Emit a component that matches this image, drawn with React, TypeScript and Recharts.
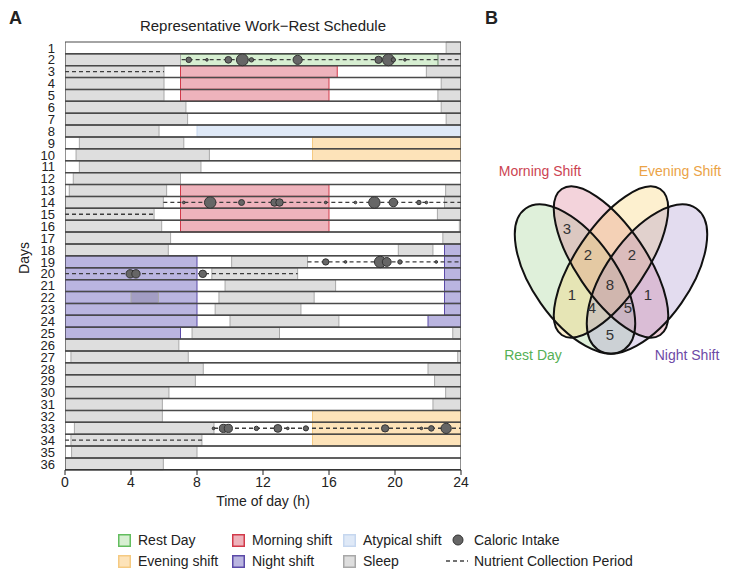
import React from 'react';
import { Bar, Cell, ComposedChart, Scatter, ScatterChart, XAxis, YAxis, ZAxis } from 'recharts';

const days = [
  1, 2, 3, 4, 5, 6, 7, 8, 9, 10, 11, 12, 13, 14, 15, 16, 17, 18,
  19, 20, 21, 22, 23, 24, 25, 26, 27, 28, 29, 30, 31, 32, 33, 34, 35, 36,
];
const timeTicks = [0, 4, 8, 12, 16, 20, 24];

// sleep bouts: [day, start h, end h]
const sleepPeriods: [number, number, number][] = [
  [1, 23.1, 24],
  [2, 0, 7.0], [2, 22.6, 24],
  [3, 0, 6.0], [3, 21.9, 24],
  [4, 0, 6.0], [4, 22.8, 24],
  [5, 0, 6.0], [5, 22.6, 24],
  [6, 0, 7.33], [6, 22.8, 24],
  [7, 0, 7.43], [7, 23.1, 24],
  [8, 0, 5.7],
  [9, 0.87, 7.2],
  [10, 0.67, 8.75],
  [11, 0.87, 8.24],
  [12, 0.5, 7.0],
  [13, 0.26, 6.16], [13, 23.07, 24],
  [14, 0, 5.96], [14, 23.0, 24],
  [15, 0, 5.4], [15, 22.57, 24],
  [16, 0, 5.86], [16, 23.9, 24],
  [17, 0, 6.4], [17, 22.9, 24],
  [18, 0, 6.26], [18, 20.2, 22.3],
  [19, 10.1, 14.7],
  [20, 8.9, 14.1],
  [21, 9.7, 16.4],
  [22, 4.0, 5.66], [22, 9.33, 15.1],
  [23, 9.1, 14.3],
  [24, 10.0, 16.6],
  [25, 7.7, 13.0], [25, 23.5, 24],
  [26, 0, 6.9],
  [27, 0.36, 7.47], [27, 23.8, 24],
  [28, 0, 8.38], [28, 22.0, 24],
  [29, 0, 7.9], [29, 22.4, 24],
  [30, 0, 6.3], [30, 23.07, 24],
  [31, 0, 5.9], [31, 22.3, 24],
  [32, 0, 5.9],
  [33, 0.57, 9.03],
  [34, 0.36, 8.3],
  [35, 0.4, 8.0],
  [36, 0, 5.96],
];

// work / rest blocks: [day, kind, start h, end h]
const shiftPeriods: [number, string, number, number][] = [
  [2, 'rest', 7.0, 22.6],
  [3, 'morning', 7.0, 16.5],
  [4, 'morning', 7.0, 16.0],
  [5, 'morning', 7.0, 16.0],
  [8, 'atypical', 8.0, 24],
  [9, 'evening', 15.0, 24],
  [10, 'evening', 15.0, 24],
  [13, 'morning', 7.0, 16.0],
  [14, 'morning', 7.0, 16.0],
  [15, 'morning', 7.0, 16.0],
  [16, 'morning', 7.0, 16.0],
  [18, 'night', 23.0, 24],
  [19, 'night', 0, 8.0], [19, 'night', 23.0, 24],
  [20, 'night', 0, 8.0], [20, 'night', 23.0, 24],
  [21, 'night', 0, 8.0], [21, 'night', 23.0, 24],
  [22, 'night', 0, 8.0], [22, 'night', 23.0, 24],
  [23, 'night', 0, 8.0], [23, 'night', 23.0, 24],
  [24, 'night', 0, 8.0], [24, 'night', 22.0, 24],
  [25, 'night', 0, 7.0],
  [32, 'evening', 15.0, 24],
  [33, 'evening', 15.0, 24],
  [34, 'evening', 15.0, 24],
];

// nutrient collection period: [day, start h, end h]
const collectionPeriods: [number, number, number][] = [
  [2, 7.07, 24], [3, 0, 6.0],
  [14, 5.96, 24], [15, 0, 5.4],
  [19, 14.7, 24], [20, 0, 14.1],
  [33, 9.03, 24], [34, 0, 8.3],
];

// caloric intake events: [day, time h, kcal]
const intakes: [number, number, number][] = [
  [2, 7.5, 175], [2, 8.6, 40], [2, 9.9, 260], [2, 10.75, 800], [2, 11.3, 110], [2, 12.5, 40],
  [2, 14.1, 480], [2, 19.0, 300], [2, 19.6, 800], [2, 19.9, 110], [2, 20.6, 40],
  [14, 7.2, 40], [14, 8.8, 750], [14, 10.7, 200], [14, 12.7, 320], [14, 13.0, 320], [14, 15.8, 40],
  [14, 17.6, 40], [14, 18.75, 750], [14, 19.9, 420], [14, 21.45, 110], [14, 21.9, 40],
  [19, 15.8, 230], [19, 17.0, 40], [19, 19.1, 750], [19, 19.5, 450], [19, 20.3, 110], [19, 22.5, 40],
  [20, 3.95, 400], [20, 4.3, 400], [20, 8.35, 320],
  [33, 9.0, 40], [33, 9.6, 380], [33, 9.9, 380], [33, 11.6, 110], [33, 12.9, 350], [33, 13.5, 40],
  [33, 14.6, 150], [33, 19.4, 300], [33, 21.6, 40], [33, 22.2, 175], [33, 23.1, 600],
];

// Venn counts (panel B)
const vennSets = ['Rest Day', 'Morning Shift', 'Evening Shift', 'Night Shift'];
const vennRegions = ['R+M', 'R+M+E', 'M+E+N', 'R+M+E+N', 'R+E', 'R+E+N', 'R+M+N', 'M+N', 'R+N'];
const vennCounts = [3, 2, 2, 8, 1, 4, 5, 1, 5];

// ---- styles / layout ----
const FONT = "'Liberation Sans', Arial, Helvetica, sans-serif";

const shiftStyle: Record<string, { fill: string; stroke: string }> = {
  rest: { fill: '#d7efd2', stroke: '#63bd5f' },
  morning: { fill: '#eeb3bc', stroke: '#d23a4a' },
  atypical: { fill: '#dfe9f7', stroke: '#c6d7ef' },
  evening: { fill: '#fde3b9', stroke: '#f5ca82' },
  night: { fill: '#bab5e0', stroke: '#5b4aa8' },
};

// ellipse geometry in the 249x270 panel
const vennStyle = [
  { fill: '#94cd84', text: '#55b055', x: 95, y: 159, rx: 86, ry: 42, tilt: 55, lx: 53, ly: 235 },
  { fill: '#d76c87', text: '#cc4452', x: 131, y: 142, rx: 88, ry: 35, tilt: 56, lx: 60, ly: 51 },
  { fill: '#f8cd5f', text: '#eba346', x: 131, y: 142, rx: 88, ry: 35, tilt: -56, lx: 200, ly: 51 },
  { fill: '#a28aca', text: '#6e4aa6', x: 167, y: 159, rx: 86, ry: 42, tilt: -55, lx: 207, ly: 235 },
];
const vennRegionPos = [
  [87, 108], [108, 134], [152, 134], [130, 164], [92, 174], [112, 187], [148, 187], [168, 174], [130, 214],
];

const rows = days.map((day) => {
  const sl = sleepPeriods.filter((s) => s[0] === day);
  const sh = shiftPeriods.filter((s) => s[0] === day);
  const col = collectionPeriods.find((c) => c[0] === day);
  return {
    day,
    sleepA: sl[0] ? [sl[0][1], sl[0][2]] : null,
    sleepB: sl[1] ? [sl[1][1], sl[1][2]] : null,
    shiftA: sh[0] ? [sh[0][2], sh[0][3]] : null,
    shiftAKind: sh[0] ? sh[0][1] : 'rest',
    shiftB: sh[1] ? [sh[1][2], sh[1][3]] : null,
    shiftBKind: sh[1] ? sh[1][1] : 'rest',
    collection: col ? [col[1], col[2]] : null,
    frame: [0, 24],
  };
});

const intakePoints = intakes.map(([day, hour, kcal]) => ({ day, hour, kcal }));

const DashedSpan = (props: any) => {
  const { x, y, width, height } = props;
  if (!(width > 0)) return <g />;
  const cy = y + height / 2;
  return (
    <line x1={x} x2={x + width} y1={cy} y2={cy} stroke="#3c3c3c" strokeWidth={1.3} strokeDasharray="4 3" />
  );
};

function Schedule() {
  const BAR = 11.6;
  return (
    <ComposedChart
      width={480}
      height={516}
      data={rows}
      layout="vertical"
      margin={{ top: 42, right: 19, bottom: 0, left: 0 }}
      barSize={BAR}
      barGap={-BAR}
      barCategoryGap={0}
    >
      <XAxis
        type="number"
        domain={[0, 24]}
        allowDataOverflow
        ticks={timeTicks}
        height={46}
        tick={{ fill: '#222', fontSize: 14 }}
        stroke="#222"
        tickSize={5}
        label={{ value: 'Time of day (h)', position: 'insideBottom', offset: 10, fill: '#222', fontSize: 14 }}
      />
      <YAxis
        type="category"
        dataKey="day"
        allowDuplicatedCategory={false}
        width={65}
        interval={0}
        tickLine={false}
        axisLine={false}
        tickMargin={4}
        tick={{ fill: '#222', fontSize: 13 }}
      />
      <ZAxis type="number" dataKey="kcal" domain={[0, 800]} range={[0, 110]} />
      <Bar dataKey="shiftA" isAnimationActive={false} strokeWidth={1}>
        {rows.map((r) => (
          <Cell key={r.day} fill={shiftStyle[r.shiftAKind].fill} stroke={shiftStyle[r.shiftAKind].stroke} />
        ))}
      </Bar>
      <Bar dataKey="shiftB" isAnimationActive={false} strokeWidth={1}>
        {rows.map((r) => (
          <Cell key={r.day} fill={shiftStyle[r.shiftBKind].fill} stroke={shiftStyle[r.shiftBKind].stroke} />
        ))}
      </Bar>
      <Bar dataKey="sleepA" isAnimationActive={false} fill="#000" fillOpacity={0.13} stroke="#a8a8a8" strokeWidth={1} />
      <Bar dataKey="sleepB" isAnimationActive={false} fill="#000" fillOpacity={0.13} stroke="#a8a8a8" strokeWidth={1} />
      <Bar dataKey="collection" isAnimationActive={false} shape={DashedSpan} />
      <Bar dataKey="frame" isAnimationActive={false} fill="none" stroke="#4a4a4a" strokeWidth={1.2} />
      <Scatter
        data={intakePoints}
        dataKey="hour"
        isAnimationActive={false}
        fill="#666"
        stroke="#333"
        strokeWidth={1}
      />
    </ComposedChart>
  );
}

const EllipseFill = (p: any) => (
  <ellipse
    cx={p.cx}
    cy={p.cy}
    rx={p.payload.rx}
    ry={p.payload.ry}
    transform={`rotate(${p.payload.tilt} ${p.cx} ${p.cy})`}
    fill={p.payload.fill}
    fillOpacity={0.3}
    stroke="none"
  />
);
const EllipseLine = (p: any) => (
  <ellipse
    cx={p.cx}
    cy={p.cy}
    rx={p.payload.rx}
    ry={p.payload.ry}
    transform={`rotate(${p.payload.tilt} ${p.cx} ${p.cy})`}
    fill="none"
    stroke="#111"
    strokeWidth={2}
  />
);
const CountText = (p: any) => (
  <text x={p.cx} y={p.cy} textAnchor="middle" dominantBaseline="central" fontSize={15} fill="#333">
    {p.payload.count}
  </text>
);
const SetText = (p: any) => (
  <text x={p.cx} y={p.cy} textAnchor="middle" dominantBaseline="central" fontSize={14} fill={p.payload.color}>
    {p.payload.name}
  </text>
);

function Venn() {
  const sets = vennSets.map((name, i) => ({ name, ...vennStyle[i] }));
  const labels = vennSets.map((name, i) => ({
    name,
    x: vennStyle[i].lx,
    y: vennStyle[i].ly,
    color: vennStyle[i].text,
  }));
  const counts = vennRegions.map((region, i) => ({
    region,
    count: vennCounts[i],
    x: vennRegionPos[i][0],
    y: vennRegionPos[i][1],
  }));
  return (
    <ScatterChart width={249} height={270} margin={{ top: 0, right: 0, bottom: 0, left: 0 }}>
      <XAxis type="number" dataKey="x" domain={[0, 249]} hide height={0} />
      <YAxis type="number" dataKey="y" domain={[0, 270]} hide reversed width={0} />
      <Scatter data={sets} shape={EllipseFill} isAnimationActive={false} />
      <Scatter data={sets} shape={EllipseLine} isAnimationActive={false} />
      <Scatter data={counts} shape={CountText} isAnimationActive={false} />
      <Scatter data={labels} shape={SetText} isAnimationActive={false} />
    </ScatterChart>
  );
}

const legendRows = [
  [
    { label: 'Rest Day', kind: 'rest' },
    { label: 'Morning shift', kind: 'morning' },
    { label: 'Atypical shift', kind: 'atypical' },
    { label: 'Caloric Intake', kind: 'dot' },
  ],
  [
    { label: 'Evening shift', kind: 'evening' },
    { label: 'Night shift', kind: 'night' },
    { label: 'Sleep', kind: 'sleep' },
    { label: 'Nutrient Collection Period', kind: 'dash' },
  ],
];
const legendCols = [118, 232, 343, 445];

function Marker({ kind }: { kind: string }) {
  if (kind === 'dot') {
    return (
      <svg width={26} height={14}>
        <circle cx={13} cy={7} r={5} fill="#666" stroke="#333" />
      </svg>
    );
  }
  if (kind === 'dash') {
    return (
      <svg width={26} height={14}>
        <line x1={1} x2={23} y1={7} y2={7} stroke="#444" strokeWidth={1.3} strokeDasharray="4 3" />
      </svg>
    );
  }
  const st = kind === 'sleep' ? { fill: '#dedede', stroke: '#a8a8a8' } : shiftStyle[kind];
  return (
    <svg width={13} height={13}>
      <rect x={0.75} y={0.75} width={11.5} height={11.5} fill={st.fill} stroke={st.stroke} strokeWidth={1.5} />
    </svg>
  );
}

export default function App() {
  return (
    <div
      style={{
        position: 'absolute',
        left: 0,
        top: 0,
        width: 729,
        height: 576,
        background: '#fff',
        fontFamily: FONT,
        color: '#222',
        overflow: 'hidden',
      }}
    >
      <div style={{ position: 'absolute', left: 9, top: 8, fontSize: 18, fontWeight: 'bold' }}>A</div>
      <div style={{ position: 'absolute', left: 485, top: 8, fontSize: 18, fontWeight: 'bold' }}>B</div>
      <div style={{ position: 'absolute', left: 63, width: 400, top: 17, textAlign: 'center', fontSize: 15 }}>
        Representative Work−Rest Schedule
      </div>
      <div
        style={{
          position: 'absolute',
          left: 24,
          top: 258,
          fontSize: 14,
          transform: 'translate(-50%, -50%) rotate(-90deg)',
        }}
      >
        Days
      </div>
      <div style={{ position: 'absolute', left: 0, top: 0 }}>
        <Schedule />
      </div>
      <div style={{ position: 'absolute', left: 480, top: 120 }}>
        <Venn />
      </div>
      {legendRows.map((row, ri) =>
        row.map((item, ci) => (
          <div
            key={item.label}
            style={{
              position: 'absolute',
              left: legendCols[ci],
              top: 531 + ri * 21,
              height: 18,
              display: 'flex',
              alignItems: 'center',
              fontSize: 14,
              whiteSpace: 'nowrap',
            }}
          >
            <Marker kind={item.kind} />
            <span style={{ marginLeft: ci === 3 ? 3 : 7 }}>{item.label}</span>
          </div>
        ))
      )}
    </div>
  );
}
